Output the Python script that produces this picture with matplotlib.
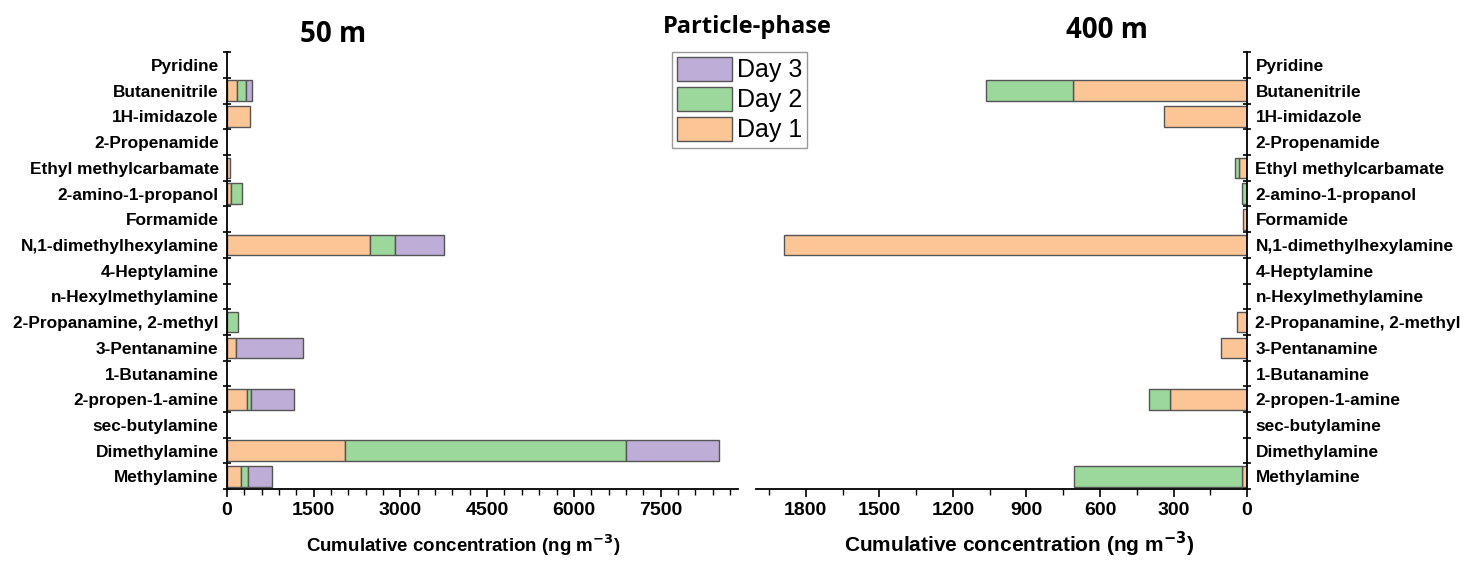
import numpy as np
import matplotlib
matplotlib.use("Agg")
import matplotlib.pyplot as plt
from matplotlib.ticker import MultipleLocator, FixedLocator

plt.rcParams["font.family"] = ["Liberation Sans", "DejaVu Sans"]

# ── DATA ────────────────────────────────────────────────────────────────────
compounds = ["Pyridine", "Butanenitrile", "1H-imidazole", "2-Propenamide",
             "Ethyl methylcarbamate", "2-amino-1-propanol", "Formamide",
             "N,1-dimethylhexylamine", "4-Heptylamine", "n-Hexylmethylamine",
             "2-Propanamine, 2-methyl", "3-Pentanamine", "1-Butanamine",
             "2-propen-1-amine", "sec-butylamine", "Dimethylamine", "Methylamine"]

m50_day1 = [0, 175, 400, 0, 60, 70, 0, 2480, 0, 0, 0, 150, 0, 340, 0, 2040, 250]
m50_day2 = [0, 145, 0, 0, 0, 190, 0, 430, 0, 0, 190, 0, 0, 80, 0, 4870, 115]
m50_day3 = [0, 120, 0, 0, 0, 0, 0, 840, 0, 0, 0, 1160, 0, 745, 0, 1600, 410]

m400_day1 = [0, 710, 340, 0, 35, 0, 15, 1890, 0, 0, 40, 105, 0, 315, 0, 0, 20]
m400_day2 = [0, 355, 0, 0, 15, 20, 0, 0, 0, 0, 0, 0, 0, 85, 0, 0, 685]
m400_day3 = [0] * 17

days = ["Day 1", "Day 2", "Day 3"]
COLORS = ["#FCC596", "#9CD79C", "#BEADD6"]
EDGE = "#555555"

fig = plt.figure(figsize=(14.79, 5.61), dpi=100)
ax1 = fig.add_axes([0.1535, 0.128, 0.3455, 0.779])
ax2 = fig.add_axes([0.5112, 0.128, 0.332, 0.779])

y = np.arange(len(compounds))


def stack(ax, series):
    left = np.zeros(len(compounds))
    handles = []
    for vals, col, lab in zip(series, COLORS, days):
        vals = np.array(vals, dtype=float)
        m = vals > 0
        h = ax.barh(y[m], vals[m], left=left[m], height=0.8, color=col,
                    edgecolor=EDGE, linewidth=1.0, label=lab, zorder=2)
        handles.append(h)
        left += vals
    return handles


handles = stack(ax1, [m50_day1, m50_day2, m50_day3])
stack(ax2, [m400_day1, m400_day2, m400_day3])

for ax in (ax1, ax2):
    ax.set_ylim(len(compounds) - 0.5, -0.5)
    ax.set_yticks(y)
    ax.set_yticklabels(compounds, fontsize=12.4, fontweight="bold")
    ax.yaxis.set_minor_locator(FixedLocator(np.arange(-0.5, len(compounds), 1.0)))
    ax.tick_params(axis="y", which="major", length=0, pad=6)
    ax.tick_params(axis="y", which="minor", direction="inout", length=6, width=1.2)
    ax.tick_params(axis="x", which="major", direction="out", length=6, width=1.2,
                   labelsize=14)
    ax.tick_params(axis="x", which="minor", direction="out", length=4, width=1.0)
    ax.spines["top"].set_visible(False)

# left panel
ax1.set_xlim(0, 8840)
ax1.xaxis.set_major_locator(MultipleLocator(1500))
ax1.xaxis.set_minor_locator(MultipleLocator(300))
ax1.spines["right"].set_visible(False)
for s in ("left", "bottom"):
    ax1.spines[s].set_linewidth(1.3)
ax1.set_xlabel("Cumulative concentration (ng m$^{\\mathbf{-3}}$)", fontsize=13.5,
               fontweight="bold")
ax1.xaxis.set_label_coords(0.462, -0.098)

# right panel (reversed x, labels on right)
ax2.set_xlim(2003, 0)
ax2.xaxis.set_major_locator(MultipleLocator(300))
ax2.xaxis.set_minor_locator(MultipleLocator(150))
ax2.spines["left"].set_visible(False)
for s in ("right", "bottom"):
    ax2.spines[s].set_linewidth(1.3)
ax2.yaxis.tick_right()
ax2.set_xlabel("Cumulative concentration (ng m$^{\\mathbf{-3}}$)", fontsize=15,
               fontweight="bold")
ax2.xaxis.set_label_coords(0.536, -0.092)

for ax in (ax1, ax2):
    for lbl in ax.get_xticklabels() + ax.get_yticklabels():
        lbl.set_fontweight("bold")

TFONT = ["Open Sans", "DejaVu Sans"]
fig.text(333 / 1479, 1 - 42 / 561, "50 m", fontsize=20, fontweight="bold",
         ha="center", family=TFONT)
fig.text(747 / 1479, 1 - 33 / 561, "Particle-phase", fontsize=17, fontweight="bold",
         ha="center", family=TFONT)
fig.text(1107 / 1479, 1 - 38 / 561, "400 m", fontsize=20, fontweight="bold",
         ha="center", family=TFONT)

leg = fig.legend(handles[::-1], days[::-1], loc="upper left",
                 bbox_to_anchor=(672 / 1479, 1 - 52 / 561), fontsize=18,
                 frameon=True, fancybox=False, edgecolor="#999999", framealpha=1,
                 handlelength=2.2, handleheight=1.1, handletextpad=0.2,
                 labelspacing=0.18, borderpad=0.2, borderaxespad=0)
leg.get_frame().set_linewidth(1.0)

fig.savefig("out.png", dpi=100)
